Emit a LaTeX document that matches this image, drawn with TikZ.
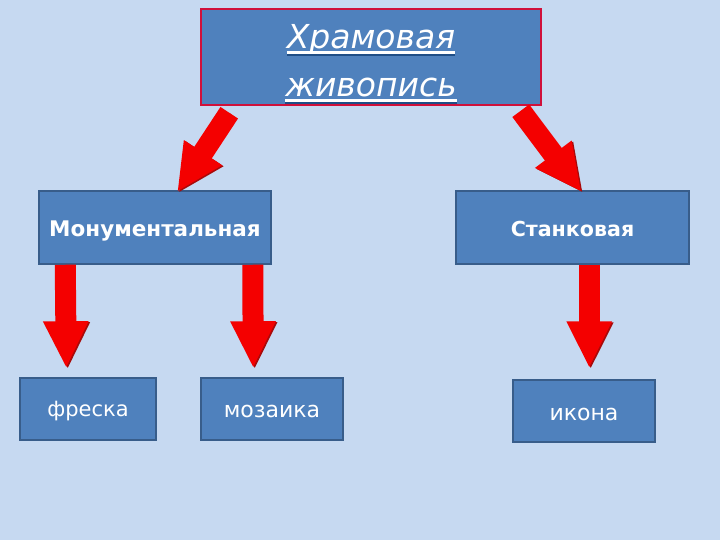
\documentclass[tikz,border=0pt]{standalone}
\usepackage{xcolor}
\usepackage{fontspec}
\setmainfont{DejaVu Sans}
\usepackage{tikz}
\usetikzlibrary{arrows.meta}
\definecolor{slidebg}{HTML}{C6D9F1}
\definecolor{boxfill}{HTML}{4F81BD}
\definecolor{boxline}{HTML}{385D8A}
\definecolor{boxred}{HTML}{D0103A}
\definecolor{arrowred}{HTML}{F40000}
\definecolor{arrowdark}{HTML}{A80A0A}
\definecolor{undershade}{HTML}{1F4E86}
\newcommand{\ulword}[1]{\setbox0\hbox{#1}\rlap{\copy0}\rlap{\raisebox{-7.5pt}{\color{undershade}\rule{\wd0}{3pt}}}\rlap{\raisebox{-6pt}{\rule{\wd0}{3pt}}}\hbox to \wd0{}}

\begin{document}
\begin{tikzpicture}[x=1pt,y=-1pt]
\tikzstyle{box}=[rectangle, draw=boxline, fill=boxfill, line width=1.5pt, text=white, inner sep=0pt, text height=20pt, text depth=4pt, font=\fontsize{22}{26}\selectfont]
\tikzstyle{redarrow}=[draw=arrowred, line width=21pt, shorten >=-2pt, -{Triangle[length=47pt,width=42pt]}, preaction={draw=arrowdark, transform canvas={xshift=1.5pt,yshift=-1pt}}]
\fill[slidebg] (0,0) rectangle (720,540);
\node[box, draw=boxred, minimum width=340pt, minimum height=96pt, text height=, text depth=, font=\fontsize{33}{48}\selectfont\itshape] (hram) at (371,57) {\raisebox{-11.75pt}[0pt][0pt]{\begin{tabular}{@{}c@{}}\ulword{Храмовая}\\\ulword{живопись}\end{tabular}}};
\node[box, minimum width=232pt, minimum height=73pt, text height=22pt, font=\fontsize{21.5}{26}\selectfont] (mon) at (155,227.5) {\textbf{Монументальная}};
\node[box, minimum width=233pt, minimum height=73pt, text height=22pt, font=\fontsize{20.6}{26}\selectfont] (stan) at (572.5,227.5) {\textbf{Станковая}};
\node[box, minimum width=136pt, minimum height=62pt, text height=18pt, font=\fontsize{21}{26}\selectfont] (fresco) at (88,409) {фреска};
\node[box, minimum width=142pt, minimum height=62pt] (mosaic) at (272,409) {мозаика};
\node[box, minimum width=142pt, minimum height=62pt, text height=22pt] (icon) at (584,411) {икона};
\draw[redarrow] ([xshift=29pt,yshift=-7pt]hram.south west) -- ([xshift=140pt]mon.north west);
\draw[redarrow] ([xshift=-21pt,yshift=-5pt]hram.south east) -- ([xshift=125pt]stan.north west);
\draw[redarrow] ([xshift=27pt]mon.south west) -- ([xshift=47pt,yshift=11pt]fresco.north west);
\draw[redarrow] ([xshift=-19pt]mon.south east) -- ([xshift=53pt,yshift=11pt]mosaic.north west);
\draw[redarrow] ([xshift=134pt]stan.south west) -- ([xshift=77pt,yshift=13pt]icon.north west);
\end{tikzpicture}
\end{document}
